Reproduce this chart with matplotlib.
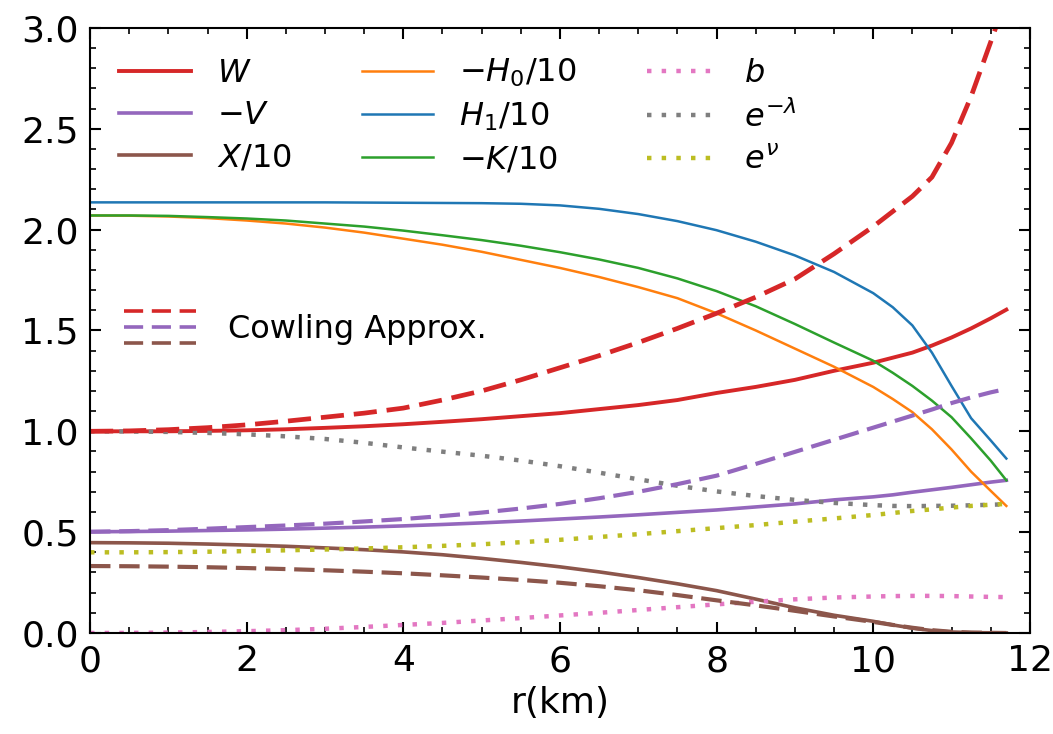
import matplotlib
matplotlib.use('Agg')
import matplotlib.pyplot as plt
from matplotlib.lines import Line2D
from matplotlib.legend_handler import HandlerBase
from matplotlib.ticker import MultipleLocator

# radial grid (km)
r = [0, 0.5, 1, 1.5, 2, 2.5, 3, 3.5, 4, 4.5, 5, 5.5, 6, 6.5, 7, 7.5, 8, 8.5,
     9, 9.5, 10, 10.25, 10.5, 10.75, 11, 11.25, 11.5, 11.7]

# full GR perturbations
W = [1.0, 1.0, 1.0, 1.002, 1.005, 1.01, 1.017, 1.025, 1.035, 1.047, 1.06, 1.075,
     1.09, 1.11, 1.13, 1.155, 1.19, 1.22, 1.255, 1.30, 1.34, 1.365, 1.39, 1.425,
     1.465, 1.51, 1.56, 1.603]
minus_V = [0.502, 0.503, 0.505, 0.508, 0.511, 0.515, 0.52, 0.525, 0.531, 0.538,
           0.546, 0.555, 0.565, 0.575, 0.586, 0.598, 0.61, 0.625, 0.64, 0.66,
           0.675, 0.685, 0.698, 0.71, 0.722, 0.735, 0.748, 0.757]
X_10 = [0.448, 0.447, 0.445, 0.441, 0.436, 0.43, 0.422, 0.413, 0.402, 0.388,
        0.37, 0.35, 0.328, 0.303, 0.275, 0.244, 0.21, 0.168, 0.125, 0.088,
        0.058, 0.04, 0.024, 0.012, 0.005, 0.002, 0.001, 0.0]
minus_H0_10 = [2.07, 2.069, 2.065, 2.057, 2.045, 2.03, 2.01, 1.985, 1.955, 1.925,
               1.89, 1.85, 1.81, 1.765, 1.715, 1.66, 1.585, 1.50, 1.41, 1.32,
               1.22, 1.16, 1.095, 1.01, 0.91, 0.80, 0.705, 0.63]
H1_10 = [2.135, 2.135, 2.135, 2.135, 2.135, 2.135, 2.135, 2.134, 2.133, 2.132,
         2.131, 2.128, 2.12, 2.103, 2.077, 2.042, 1.997, 1.94, 1.872, 1.79,
         1.685, 1.615, 1.525, 1.39, 1.225, 1.065, 0.955, 0.865]
minus_K_10 = [2.07, 2.07, 2.068, 2.062, 2.055, 2.045, 2.03, 2.015, 1.995, 1.972,
              1.948, 1.92, 1.888, 1.852, 1.81, 1.758, 1.695, 1.62, 1.532, 1.44,
              1.35, 1.29, 1.225, 1.152, 1.07, 0.965, 0.855, 0.757]

# background quantities
b = [0.0, 0.0005, 0.002, 0.005, 0.009, 0.014, 0.021, 0.03, 0.04, 0.05, 0.062,
     0.074, 0.087, 0.10, 0.114, 0.128, 0.142, 0.155, 0.167, 0.176, 0.181,
     0.183, 0.184, 0.184, 0.183, 0.181, 0.179, 0.178]
e_mlambda = [1.0, 0.999, 0.997, 0.992, 0.985, 0.975, 0.962, 0.943, 0.92, 0.899,
             0.879, 0.855, 0.827, 0.795, 0.762, 0.73, 0.702, 0.679, 0.66, 0.645,
             0.634, 0.63, 0.629, 0.63, 0.631, 0.633, 0.636, 0.638]
e_nu = [0.40, 0.40, 0.401, 0.403, 0.406, 0.41, 0.414, 0.419, 0.425, 0.432, 0.44,
        0.45, 0.462, 0.476, 0.49, 0.505, 0.52, 0.535, 0.552, 0.568, 0.585,
        0.595, 0.605, 0.613, 0.622, 0.63, 0.636, 0.64]

# Cowling approximation
W_cow = [1.0, 1.002, 1.008, 1.018, 1.032, 1.05, 1.07, 1.09, 1.115, 1.155, 1.2,
         1.255, 1.315, 1.375, 1.44, 1.51, 1.585, 1.665, 1.755, 1.88, 2.015,
         2.09, 2.165, 2.26, 2.43, 2.66, 2.93, 3.15]
minus_V_cow = [0.502, 0.505, 0.51, 0.517, 0.525, 0.533, 0.542, 0.553, 0.565, 0.58,
               0.597, 0.617, 0.64, 0.668, 0.70, 0.738, 0.78, 0.838, 0.898, 0.958,
               1.018, 1.048, 1.078, 1.108, 1.14, 1.168, 1.193, 1.21]
X_10_cow = [0.332, 0.331, 0.329, 0.326, 0.322, 0.317, 0.311, 0.304, 0.296, 0.286,
            0.275, 0.263, 0.249, 0.232, 0.212, 0.188, 0.162, 0.137, 0.11, 0.082,
            0.055, 0.04, 0.026, 0.014, 0.006, 0.002, 0.001, 0.0]

RED, PURPLE, BROWN = '#d62728', '#9467bd', '#8c564b'
ORANGE, BLUE, GREEN = '#ff7f0e', '#1f77b4', '#2ca02c'
PINK, GRAY, OLIVE = '#e377c2', '#7f7f7f', '#bcbd22'

DASH = (4.9, 2.1)
DOT = (1.0, 2.3)


class HandlerStack(HandlerBase):
    """Draw a tuple of lines stacked vertically in one legend entry"""
    def create_artists(self, legend, orig_handle, xdescent, ydescent,
                       width, height, fontsize, trans):
        artists = []
        n = len(orig_handle)
        yc = height / 2 - ydescent
        for i, h in enumerate(orig_handle):
            y = yc + ((n - 1) / 2 - i) * 0.5 * fontsize
            ln = Line2D([-xdescent, width - xdescent], [y, y],
                        color=h.get_color(), lw=2.6, dashes=(5.3, 2.4))
            ln.set_transform(trans)
            artists.append(ln)
        return artists


fig = plt.figure(figsize=(10.53, 7.34), dpi=100)
ax = fig.add_axes([0.0855, 0.1376, 0.8925, 0.8244])

l_W, = ax.plot(r, W, color=RED, lw=2.8, label=r'$W$')
l_V, = ax.plot(r, minus_V, color=PURPLE, lw=2.6, label=r'$-V$')
l_X, = ax.plot(r, X_10, color=BROWN, lw=2.6, label=r'$X/10$')
l_H0, = ax.plot(r, minus_H0_10, color=ORANGE, lw=1.8, label=r'$-H_0/10$')
l_H1, = ax.plot(r, H1_10, color=BLUE, lw=1.8, label=r'$H_1/10$')
l_K, = ax.plot(r, minus_K_10, color=GREEN, lw=1.8, label=r'$-K/10$')
l_b, = ax.plot(r, b, color=PINK, lw=3.2, dashes=DOT, label=r'$b$')
l_el, = ax.plot(r, e_mlambda, color=GRAY, lw=3.2, dashes=DOT, label=r'$e^{-\lambda}$')
l_en, = ax.plot(r, e_nu, color=OLIVE, lw=3.2, dashes=DOT, label=r'$e^{\nu}$')

c_W, = ax.plot(r, W_cow, color=RED, lw=3.4, dashes=DASH)
c_V, = ax.plot(r, minus_V_cow, color=PURPLE, lw=3.0, dashes=DASH)
c_X, = ax.plot(r, X_10_cow, color=BROWN, lw=3.0, dashes=DASH)

ax.set_xlim(0, 12)
ax.set_ylim(0, 3.0)
ax.xaxis.set_major_locator(MultipleLocator(2))
ax.xaxis.set_minor_locator(MultipleLocator(0.5))
ax.yaxis.set_major_locator(MultipleLocator(0.5))
ax.yaxis.set_minor_locator(MultipleLocator(0.1))
ax.tick_params(which='both', direction='in', top=True, right=True,
               labelsize=26, pad=8)
ax.tick_params(which='major', length=8, width=1.5)
ax.tick_params(which='minor', length=4, width=1.2)
for sp in ax.spines.values():
    sp.set_linewidth(1.5)

ax.set_xlabel('r(km)', fontsize=26, labelpad=6)

leg1 = ax.legend(handles=[l_W, l_V, l_X, l_H0, l_H1, l_K, l_b, l_el, l_en],
                 ncol=3, loc='upper left', bbox_to_anchor=(0.0106, 0.9835),
                 frameon=False, fontsize=23,
                 handlelength=2.25, handletextpad=0.8, columnspacing=2.2,
                 labelspacing=0.35, borderaxespad=0.3, borderpad=0.3)
ax.add_artist(leg1)

ax.legend(handles=[(c_W, c_V, c_X)], labels=['Cowling Approx.'],
          handler_map={tuple: HandlerStack()},
          loc='upper left', bbox_to_anchor=(0.016, 0.559), frameon=False,
          fontsize=23, handlelength=2.25, handletextpad=1.0,
          borderaxespad=0.3, borderpad=0.3)

fig.savefig('out.png', dpi=100, facecolor='white')
